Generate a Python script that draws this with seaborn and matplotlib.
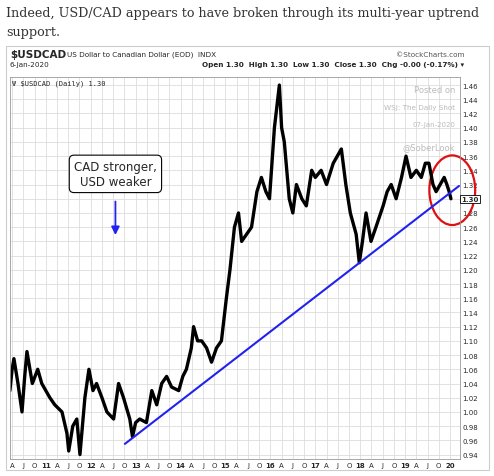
import matplotlib
matplotlib.use("Agg")
import matplotlib.pyplot as plt
import seaborn as sns
import pandas as pd
from matplotlib.patches import Ellipse, Rectangle

# decimal-year dates and USDCAD closes
dates = [2010.20, 2010.25, 2010.29, 2010.38, 2010.47, 2010.53, 2010.58, 2010.70, 2010.82, 2010.91,
         2011.00, 2011.09, 2011.20, 2011.36, 2011.47, 2011.51, 2011.60, 2011.69, 2011.76, 2011.87,
         2011.96, 2012.05, 2012.13, 2012.25, 2012.36, 2012.51, 2012.62, 2012.73, 2012.87, 2012.93,
         2013.00, 2013.09, 2013.24, 2013.36, 2013.47, 2013.58, 2013.69, 2013.80, 2013.96, 2014.05,
         2014.13, 2014.24, 2014.29, 2014.38, 2014.47, 2014.58, 2014.69, 2014.80, 2014.91, 2015.02,
         2015.10, 2015.20, 2015.29, 2015.36, 2015.47, 2015.58, 2015.70, 2015.80, 2015.90, 2015.98,
         2016.09, 2016.20, 2016.25, 2016.31, 2016.42, 2016.50, 2016.58, 2016.70, 2016.80, 2016.92,
         2017.00, 2017.13, 2017.25, 2017.40, 2017.58, 2017.68, 2017.78, 2017.91, 2017.98, 2018.05,
         2018.13, 2018.24, 2018.35, 2018.51, 2018.60, 2018.69, 2018.80, 2018.92, 2019.02, 2019.13,
         2019.25, 2019.36, 2019.45, 2019.53, 2019.62, 2019.69, 2019.78, 2019.87, 2019.93, 2019.98, 2020.02]
closes = [1.03, 1.06, 1.075, 1.04, 1.00, 1.05, 1.085, 1.04, 1.06, 1.04,
          1.03, 1.02, 1.01, 1.00, 0.97, 0.945, 0.98, 0.99, 0.94, 1.02,
          1.06, 1.03, 1.04, 1.02, 1.00, 0.99, 1.04, 1.02, 0.99, 0.965,
          0.985, 0.99, 0.985, 1.03, 1.01, 1.04, 1.05, 1.035, 1.03, 1.05,
          1.06, 1.09, 1.12, 1.10, 1.10, 1.09, 1.07, 1.09, 1.10, 1.16,
          1.20, 1.26, 1.28, 1.24, 1.25, 1.26, 1.31, 1.33, 1.31, 1.30,
          1.40, 1.46, 1.40, 1.38, 1.30, 1.28, 1.32, 1.30, 1.29, 1.34,
          1.33, 1.34, 1.32, 1.35, 1.37, 1.32, 1.28, 1.25, 1.21, 1.24,
          1.28, 1.24, 1.26, 1.29, 1.31, 1.32, 1.30, 1.33, 1.36, 1.33,
          1.34, 1.33, 1.35, 1.35, 1.32, 1.31, 1.32, 1.33, 1.32, 1.31, 1.30]
trend_x = [2012.76, 2020.20]
trend_y = [0.955, 1.318]
yticks = [round(0.94 + 0.02 * i, 2) for i in range(27)]

df = pd.DataFrame({"date": dates, "close": closes})

sns.set_theme(style="white")
plt.rcParams['font.family'] = ['DejaVu Sans']
fig = plt.figure(figsize=(4.94, 4.77), dpi=100)

fig.text(0.012, 0.985, "Indeed, USD/CAD appears to have broken through its multi-year uptrend\nsupport.",
         family="DejaVu Serif", fontsize=9.2, va="top", color="#333333", linespacing=1.6)
fig.patches.append(Rectangle((0.012, 0.012), 0.978, 0.89, transform=fig.transFigure,
                             fill=False, ec="#cccccc", lw=0.8))
fig.text(0.02, 0.885, "$USDCAD", fontsize=7.5, weight="bold", va="center")
fig.text(0.135, 0.885, "US Dollar to Canadian Dollar (EOD)  INDX", fontsize=5.2, va="center")
fig.text(0.02, 0.863, "6-Jan-2020", fontsize=5.2, va="center")
fig.text(0.94, 0.885, "\u00a9StockCharts.com", fontsize=5.2, va="center", ha="right", color="#555")
fig.text(0.94, 0.863, "Open 1.30  High 1.30  Low 1.30  Close 1.30  Chg -0.00 (-0.17%) \u25be",
         fontsize=5.2, va="center", ha="right", weight="bold")

ax = fig.add_axes([0.02, 0.036, 0.911, 0.80])
sns.lineplot(data=df, x="date", y="close", ax=ax, color="black", lw=2.4)
ax.plot(trend_x, trend_y, color="#2222ee", lw=1.5)
ax.set_xlim(2010.2, 2020.22)
ax.set_ylim(0.934, 1.471)
ax.yaxis.tick_right()
ax.set_yticks(yticks)
ax.set_yticklabels([f"{v:.2f}" for v in yticks], fontsize=5)
xt, xl = [], []
for y in range(2010, 2021):
    for m, lab in [(0, str(y)[2:]), (0.25, "A"), (0.5, "J"), (0.75, "O")]:
        v = y + m
        if 2010.2 < v <= 2020.1:
            xt.append(v); xl.append(lab)
ax.set_xticks(xt)
ax.set_xticklabels(xl, fontsize=5)
for lbl in ax.get_xticklabels():
    if lbl.get_text().isdigit():
        lbl.set_fontweight("bold")
ax.tick_params(length=0, pad=2)
ax.grid(True, color="#dddddd", lw=0.6)
ax.set_xlabel(""); ax.set_ylabel("")
for s in ax.spines.values():
    s.set_color("#999999"); s.set_linewidth(0.6)

ax.text(0.005, 0.995, "\u03a8 $USDCAD (Daily) 1.30", transform=ax.transAxes, fontsize=5,
        family="DejaVu Sans Mono", va="top")
for t, yy, fs in [("Posted on", 0.98, 6), ("WSJ: The Daily Shot", 0.93, 5.2),
                  ("07-Jan-2020", 0.885, 5), ("@SoberLook", 0.83, 6)]:
    ax.text(0.99, yy, t, transform=ax.transAxes, ha="right", va="top", fontsize=fs, color="#bbbbbb")

ax.text(1.003, 1.30, "1.30", transform=ax.get_yaxis_transform(), fontsize=5, weight="bold",
        va="center", bbox=dict(boxstyle="square,pad=0.15", fc="white", ec="black", lw=0.6))

ax.text(2012.55, 1.335, "CAD stronger,\nUSD weaker", ha="center", va="center", fontsize=8.5,
        bbox=dict(boxstyle="round,pad=0.4", fc="white", ec="black", lw=0.8))
ax.annotate("", xy=(2012.55, 1.245), xytext=(2012.55, 1.300),
            arrowprops=dict(arrowstyle="-|>", color="#2222ee", lw=1.3))

ax.add_patch(Ellipse((2020.05, 1.312), 1.02, 0.098, fill=False, ec="#dd1111", lw=1.6, clip_on=False))

fig.savefig("out.png", dpi=100)
